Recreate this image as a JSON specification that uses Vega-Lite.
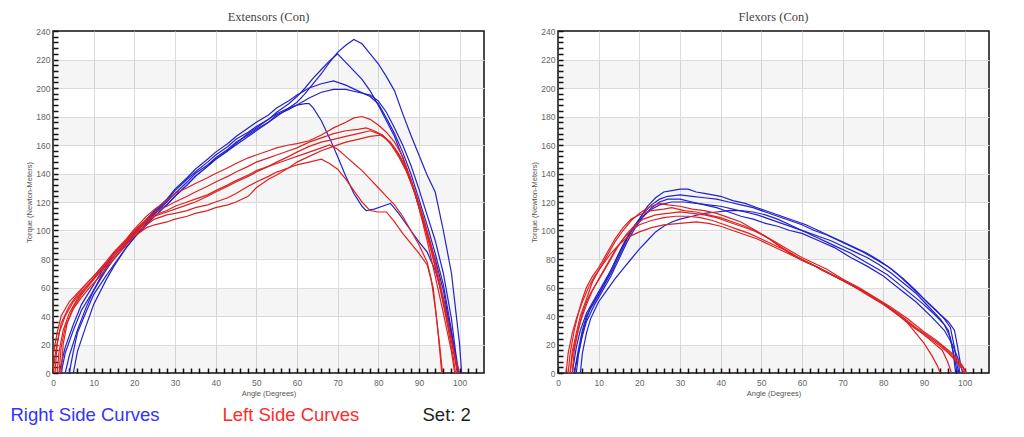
{
"$schema": "https://vega.github.io/schema/vega-lite/v6.json",
"background": "white",
"padding": {"left": 10, "top": 9, "right": 30, "bottom": 5},
"spacing": 45,
"config": {
 "view": {"stroke": "#111111", "strokeWidth": 1.5},
 "font": "Liberation Sans",
 "title": {"font": "Liberation Serif", "fontSize": 12.5, "fontWeight": "normal", "color": "#444444", "offset": 0}
},
"datasets": {
"ext": [
{"c":"B1","s":"R","a":4,"t":0},{"c":"B1","s":"R","a":5,"t":15},{"c":"B1","s":"R","a":6,"t":28},{"c":"B1","s":"R","a":8,"t":42},{"c":"B1","s":"R","a":10,"t":55},{"c":"B1","s":"R","a":13,"t":68},{"c":"B1","s":"R","a":15,"t":76},{"c":"B1","s":"R","a":18,"t":88},{"c":"B1","s":"R","a":20,"t":95},{"c":"B1","s":"R","a":23,"t":105},{"c":"B1","s":"R","a":25,"t":112},{"c":"B1","s":"R","a":28,"t":120},{"c":"B1","s":"R","a":30,"t":126},{"c":"B1","s":"R","a":33,"t":134},{"c":"B1","s":"R","a":35,"t":140},{"c":"B1","s":"R","a":38,"t":146},{"c":"B1","s":"R","a":40,"t":151},{"c":"B1","s":"R","a":43,"t":157},{"c":"B1","s":"R","a":45,"t":162},{"c":"B1","s":"R","a":48,"t":167},{"c":"B1","s":"R","a":50,"t":171},{"c":"B1","s":"R","a":53,"t":176},{"c":"B1","s":"R","a":55,"t":180},{"c":"B1","s":"R","a":58,"t":186},{"c":"B1","s":"R","a":60,"t":190},{"c":"B1","s":"R","a":62,"t":196},{"c":"B1","s":"R","a":64,"t":203},{"c":"B1","s":"R","a":66,"t":210},{"c":"B1","s":"R","a":68,"t":218},{"c":"B1","s":"R","a":70,"t":225},{"c":"B1","s":"R","a":72,"t":230},{"c":"B1","s":"R","a":74,"t":234},{"c":"B1","s":"R","a":76,"t":231},{"c":"B1","s":"R","a":78,"t":224},{"c":"B1","s":"R","a":80,"t":217},{"c":"B1","s":"R","a":82,"t":208},{"c":"B1","s":"R","a":84,"t":198},{"c":"B1","s":"R","a":86,"t":182},{"c":"B1","s":"R","a":88,"t":167},{"c":"B1","s":"R","a":90,"t":153},{"c":"B1","s":"R","a":92,"t":139},{"c":"B1","s":"R","a":94,"t":127},{"c":"B1","s":"R","a":96,"t":100},{"c":"B1","s":"R","a":98,"t":70},{"c":"B1","s":"R","a":99,"t":45},{"c":"B1","s":"R","a":100,"t":20},{"c":"B1","s":"R","a":100.5,"t":0},
{"c":"B2","s":"R","a":3,"t":0},{"c":"B2","s":"R","a":4,"t":12},{"c":"B2","s":"R","a":6,"t":30},{"c":"B2","s":"R","a":8,"t":45},{"c":"B2","s":"R","a":10,"t":58},{"c":"B2","s":"R","a":13,"t":72},{"c":"B2","s":"R","a":15,"t":80},{"c":"B2","s":"R","a":18,"t":90},{"c":"B2","s":"R","a":20,"t":97},{"c":"B2","s":"R","a":23,"t":107},{"c":"B2","s":"R","a":25,"t":113},{"c":"B2","s":"R","a":28,"t":121},{"c":"B2","s":"R","a":30,"t":128},{"c":"B2","s":"R","a":33,"t":136},{"c":"B2","s":"R","a":35,"t":141},{"c":"B2","s":"R","a":38,"t":148},{"c":"B2","s":"R","a":40,"t":153},{"c":"B2","s":"R","a":43,"t":159},{"c":"B2","s":"R","a":45,"t":164},{"c":"B2","s":"R","a":48,"t":169},{"c":"B2","s":"R","a":50,"t":173},{"c":"B2","s":"R","a":53,"t":178},{"c":"B2","s":"R","a":55,"t":183},{"c":"B2","s":"R","a":58,"t":189},{"c":"B2","s":"R","a":60,"t":194},{"c":"B2","s":"R","a":62,"t":200},{"c":"B2","s":"R","a":64,"t":207},{"c":"B2","s":"R","a":66,"t":213},{"c":"B2","s":"R","a":68,"t":219},{"c":"B2","s":"R","a":70,"t":224},{"c":"B2","s":"R","a":72,"t":218},{"c":"B2","s":"R","a":74,"t":212},{"c":"B2","s":"R","a":76,"t":206},{"c":"B2","s":"R","a":78,"t":198},{"c":"B2","s":"R","a":80,"t":188},{"c":"B2","s":"R","a":82,"t":177},{"c":"B2","s":"R","a":84,"t":166},{"c":"B2","s":"R","a":86,"t":151},{"c":"B2","s":"R","a":88,"t":136},{"c":"B2","s":"R","a":90,"t":116},{"c":"B2","s":"R","a":92,"t":98},{"c":"B2","s":"R","a":94,"t":80},{"c":"B2","s":"R","a":96,"t":58},{"c":"B2","s":"R","a":98,"t":26},{"c":"B2","s":"R","a":99,"t":9},{"c":"B2","s":"R","a":99.5,"t":0},
{"c":"B3","s":"R","a":2,"t":0},{"c":"B3","s":"R","a":3,"t":14},{"c":"B3","s":"R","a":5,"t":30},{"c":"B3","s":"R","a":7,"t":44},{"c":"B3","s":"R","a":10,"t":58},{"c":"B3","s":"R","a":13,"t":74},{"c":"B3","s":"R","a":15,"t":82},{"c":"B3","s":"R","a":18,"t":91},{"c":"B3","s":"R","a":20,"t":98},{"c":"B3","s":"R","a":23,"t":108},{"c":"B3","s":"R","a":25,"t":114},{"c":"B3","s":"R","a":28,"t":122},{"c":"B3","s":"R","a":30,"t":129},{"c":"B3","s":"R","a":33,"t":137},{"c":"B3","s":"R","a":35,"t":143},{"c":"B3","s":"R","a":38,"t":150},{"c":"B3","s":"R","a":40,"t":155},{"c":"B3","s":"R","a":43,"t":161},{"c":"B3","s":"R","a":45,"t":166},{"c":"B3","s":"R","a":48,"t":172},{"c":"B3","s":"R","a":50,"t":176},{"c":"B3","s":"R","a":53,"t":181},{"c":"B3","s":"R","a":55,"t":186},{"c":"B3","s":"R","a":58,"t":191},{"c":"B3","s":"R","a":60,"t":195},{"c":"B3","s":"R","a":63,"t":200},{"c":"B3","s":"R","a":66,"t":203},{"c":"B3","s":"R","a":69,"t":205},{"c":"B3","s":"R","a":72,"t":202},{"c":"B3","s":"R","a":75,"t":198},{"c":"B3","s":"R","a":78,"t":194},{"c":"B3","s":"R","a":80,"t":189},{"c":"B3","s":"R","a":82,"t":179},{"c":"B3","s":"R","a":84,"t":168},{"c":"B3","s":"R","a":86,"t":155},{"c":"B3","s":"R","a":88,"t":140},{"c":"B3","s":"R","a":90,"t":122},{"c":"B3","s":"R","a":92,"t":104},{"c":"B3","s":"R","a":94,"t":84},{"c":"B3","s":"R","a":96,"t":62},{"c":"B3","s":"R","a":98,"t":30},{"c":"B3","s":"R","a":99,"t":10},{"c":"B3","s":"R","a":99.5,"t":0},
{"c":"B4","s":"R","a":1.5,"t":0},{"c":"B4","s":"R","a":3,"t":18},{"c":"B4","s":"R","a":5,"t":34},{"c":"B4","s":"R","a":7,"t":48},{"c":"B4","s":"R","a":10,"t":62},{"c":"B4","s":"R","a":13,"t":76},{"c":"B4","s":"R","a":15,"t":84},{"c":"B4","s":"R","a":18,"t":93},{"c":"B4","s":"R","a":20,"t":99},{"c":"B4","s":"R","a":23,"t":106},{"c":"B4","s":"R","a":25,"t":112},{"c":"B4","s":"R","a":28,"t":118},{"c":"B4","s":"R","a":30,"t":124},{"c":"B4","s":"R","a":33,"t":132},{"c":"B4","s":"R","a":35,"t":138},{"c":"B4","s":"R","a":38,"t":145},{"c":"B4","s":"R","a":40,"t":150},{"c":"B4","s":"R","a":43,"t":156},{"c":"B4","s":"R","a":45,"t":160},{"c":"B4","s":"R","a":48,"t":166},{"c":"B4","s":"R","a":50,"t":170},{"c":"B4","s":"R","a":53,"t":176},{"c":"B4","s":"R","a":55,"t":181},{"c":"B4","s":"R","a":58,"t":185},{"c":"B4","s":"R","a":60,"t":188},{"c":"B4","s":"R","a":63,"t":193},{"c":"B4","s":"R","a":66,"t":197},{"c":"B4","s":"R","a":69,"t":199},{"c":"B4","s":"R","a":72,"t":199},{"c":"B4","s":"R","a":75,"t":197},{"c":"B4","s":"R","a":78,"t":195},{"c":"B4","s":"R","a":80,"t":191},{"c":"B4","s":"R","a":82,"t":183},{"c":"B4","s":"R","a":84,"t":172},{"c":"B4","s":"R","a":86,"t":160},{"c":"B4","s":"R","a":88,"t":146},{"c":"B4","s":"R","a":90,"t":129},{"c":"B4","s":"R","a":92,"t":111},{"c":"B4","s":"R","a":94,"t":93},{"c":"B4","s":"R","a":96,"t":70},{"c":"B4","s":"R","a":98,"t":38},{"c":"B4","s":"R","a":99,"t":15},{"c":"B4","s":"R","a":99.8,"t":0},
{"c":"B5","s":"R","a":5,"t":0},{"c":"B5","s":"R","a":6,"t":15},{"c":"B5","s":"R","a":8,"t":32},{"c":"B5","s":"R","a":10,"t":48},{"c":"B5","s":"R","a":13,"t":65},{"c":"B5","s":"R","a":15,"t":75},{"c":"B5","s":"R","a":18,"t":88},{"c":"B5","s":"R","a":20,"t":95},{"c":"B5","s":"R","a":23,"t":104},{"c":"B5","s":"R","a":25,"t":110},{"c":"B5","s":"R","a":28,"t":118},{"c":"B5","s":"R","a":30,"t":124},{"c":"B5","s":"R","a":33,"t":132},{"c":"B5","s":"R","a":35,"t":138},{"c":"B5","s":"R","a":38,"t":145},{"c":"B5","s":"R","a":40,"t":150},{"c":"B5","s":"R","a":43,"t":156},{"c":"B5","s":"R","a":45,"t":161},{"c":"B5","s":"R","a":48,"t":168},{"c":"B5","s":"R","a":50,"t":172},{"c":"B5","s":"R","a":53,"t":178},{"c":"B5","s":"R","a":55,"t":182},{"c":"B5","s":"R","a":58,"t":186},{"c":"B5","s":"R","a":60,"t":188},{"c":"B5","s":"R","a":62,"t":189},{"c":"B5","s":"R","a":63,"t":189},{"c":"B5","s":"R","a":64,"t":186},{"c":"B5","s":"R","a":66,"t":177},{"c":"B5","s":"R","a":68,"t":165},{"c":"B5","s":"R","a":70,"t":152},{"c":"B5","s":"R","a":72,"t":138},{"c":"B5","s":"R","a":74,"t":126},{"c":"B5","s":"R","a":76,"t":117},{"c":"B5","s":"R","a":77,"t":114},{"c":"B5","s":"R","a":79,"t":115},{"c":"B5","s":"R","a":81,"t":117},{"c":"B5","s":"R","a":83,"t":119},{"c":"B5","s":"R","a":85,"t":112},{"c":"B5","s":"R","a":88,"t":100},{"c":"B5","s":"R","a":90,"t":92},{"c":"B5","s":"R","a":92,"t":85},{"c":"B5","s":"R","a":94,"t":72},{"c":"B5","s":"R","a":96,"t":52},{"c":"B5","s":"R","a":98,"t":28},{"c":"B5","s":"R","a":99,"t":12},{"c":"B5","s":"R","a":99.6,"t":0},
{"c":"R1","s":"L","a":0,"t":12},{"c":"R1","s":"L","a":1,"t":28},{"c":"R1","s":"L","a":2,"t":40},{"c":"R1","s":"L","a":4,"t":50},{"c":"R1","s":"L","a":6,"t":56},{"c":"R1","s":"L","a":8,"t":62},{"c":"R1","s":"L","a":10,"t":68},{"c":"R1","s":"L","a":13,"t":78},{"c":"R1","s":"L","a":15,"t":85},{"c":"R1","s":"L","a":18,"t":94},{"c":"R1","s":"L","a":20,"t":101},{"c":"R1","s":"L","a":23,"t":110},{"c":"R1","s":"L","a":25,"t":115},{"c":"R1","s":"L","a":28,"t":121},{"c":"R1","s":"L","a":30,"t":126},{"c":"R1","s":"L","a":33,"t":130},{"c":"R1","s":"L","a":35,"t":133},{"c":"R1","s":"L","a":38,"t":137},{"c":"R1","s":"L","a":40,"t":140},{"c":"R1","s":"L","a":43,"t":144},{"c":"R1","s":"L","a":45,"t":147},{"c":"R1","s":"L","a":48,"t":151},{"c":"R1","s":"L","a":50,"t":153},{"c":"R1","s":"L","a":53,"t":156},{"c":"R1","s":"L","a":55,"t":158},{"c":"R1","s":"L","a":58,"t":160},{"c":"R1","s":"L","a":60,"t":161},{"c":"R1","s":"L","a":63,"t":163},{"c":"R1","s":"L","a":66,"t":167},{"c":"R1","s":"L","a":69,"t":172},{"c":"R1","s":"L","a":72,"t":176},{"c":"R1","s":"L","a":74,"t":179},{"c":"R1","s":"L","a":76,"t":180},{"c":"R1","s":"L","a":78,"t":178},{"c":"R1","s":"L","a":80,"t":174},{"c":"R1","s":"L","a":82,"t":169},{"c":"R1","s":"L","a":84,"t":162},{"c":"R1","s":"L","a":86,"t":152},{"c":"R1","s":"L","a":88,"t":136},{"c":"R1","s":"L","a":90,"t":116},{"c":"R1","s":"L","a":92,"t":93},{"c":"R1","s":"L","a":94,"t":68},{"c":"R1","s":"L","a":96,"t":42},{"c":"R1","s":"L","a":98,"t":15},{"c":"R1","s":"L","a":98.8,"t":0},
{"c":"R2","s":"L","a":1,"t":0},{"c":"R2","s":"L","a":1.5,"t":15},{"c":"R2","s":"L","a":2.5,"t":30},{"c":"R2","s":"L","a":4,"t":42},{"c":"R2","s":"L","a":6,"t":52},{"c":"R2","s":"L","a":8,"t":60},{"c":"R2","s":"L","a":10,"t":66},{"c":"R2","s":"L","a":13,"t":76},{"c":"R2","s":"L","a":15,"t":84},{"c":"R2","s":"L","a":18,"t":93},{"c":"R2","s":"L","a":20,"t":100},{"c":"R2","s":"L","a":23,"t":108},{"c":"R2","s":"L","a":25,"t":113},{"c":"R2","s":"L","a":28,"t":117},{"c":"R2","s":"L","a":30,"t":120},{"c":"R2","s":"L","a":33,"t":124},{"c":"R2","s":"L","a":35,"t":127},{"c":"R2","s":"L","a":38,"t":131},{"c":"R2","s":"L","a":40,"t":134},{"c":"R2","s":"L","a":43,"t":138},{"c":"R2","s":"L","a":45,"t":141},{"c":"R2","s":"L","a":48,"t":145},{"c":"R2","s":"L","a":50,"t":148},{"c":"R2","s":"L","a":53,"t":151},{"c":"R2","s":"L","a":55,"t":153},{"c":"R2","s":"L","a":58,"t":156},{"c":"R2","s":"L","a":60,"t":158},{"c":"R2","s":"L","a":63,"t":162},{"c":"R2","s":"L","a":66,"t":165},{"c":"R2","s":"L","a":69,"t":168},{"c":"R2","s":"L","a":72,"t":170},{"c":"R2","s":"L","a":75,"t":171},{"c":"R2","s":"L","a":77,"t":172},{"c":"R2","s":"L","a":79,"t":170},{"c":"R2","s":"L","a":81,"t":167},{"c":"R2","s":"L","a":83,"t":161},{"c":"R2","s":"L","a":85,"t":152},{"c":"R2","s":"L","a":87,"t":141},{"c":"R2","s":"L","a":89,"t":126},{"c":"R2","s":"L","a":91,"t":107},{"c":"R2","s":"L","a":93,"t":86},{"c":"R2","s":"L","a":95,"t":62},{"c":"R2","s":"L","a":97,"t":34},{"c":"R2","s":"L","a":98.5,"t":10},{"c":"R2","s":"L","a":99,"t":0},
{"c":"R3","s":"L","a":1.5,"t":0},{"c":"R3","s":"L","a":2,"t":18},{"c":"R3","s":"L","a":3,"t":32},{"c":"R3","s":"L","a":5,"t":46},{"c":"R3","s":"L","a":7,"t":55},{"c":"R3","s":"L","a":9,"t":62},{"c":"R3","s":"L","a":11,"t":69},{"c":"R3","s":"L","a":13,"t":75},{"c":"R3","s":"L","a":15,"t":82},{"c":"R3","s":"L","a":18,"t":92},{"c":"R3","s":"L","a":20,"t":98},{"c":"R3","s":"L","a":23,"t":106},{"c":"R3","s":"L","a":25,"t":110},{"c":"R3","s":"L","a":28,"t":113},{"c":"R3","s":"L","a":30,"t":115},{"c":"R3","s":"L","a":33,"t":118},{"c":"R3","s":"L","a":35,"t":120},{"c":"R3","s":"L","a":38,"t":124},{"c":"R3","s":"L","a":40,"t":127},{"c":"R3","s":"L","a":43,"t":131},{"c":"R3","s":"L","a":45,"t":134},{"c":"R3","s":"L","a":48,"t":138},{"c":"R3","s":"L","a":50,"t":141},{"c":"R3","s":"L","a":53,"t":145},{"c":"R3","s":"L","a":55,"t":148},{"c":"R3","s":"L","a":58,"t":152},{"c":"R3","s":"L","a":60,"t":155},{"c":"R3","s":"L","a":63,"t":159},{"c":"R3","s":"L","a":66,"t":162},{"c":"R3","s":"L","a":69,"t":164},{"c":"R3","s":"L","a":72,"t":166},{"c":"R3","s":"L","a":75,"t":168},{"c":"R3","s":"L","a":78,"t":170},{"c":"R3","s":"L","a":80,"t":168},{"c":"R3","s":"L","a":82,"t":164},{"c":"R3","s":"L","a":84,"t":158},{"c":"R3","s":"L","a":86,"t":148},{"c":"R3","s":"L","a":88,"t":134},{"c":"R3","s":"L","a":90,"t":118},{"c":"R3","s":"L","a":92,"t":98},{"c":"R3","s":"L","a":94,"t":75},{"c":"R3","s":"L","a":96,"t":50},{"c":"R3","s":"L","a":98,"t":22},{"c":"R3","s":"L","a":99.5,"t":0},
{"c":"R4","s":"L","a":2,"t":0},{"c":"R4","s":"L","a":2.5,"t":20},{"c":"R4","s":"L","a":3.5,"t":35},{"c":"R4","s":"L","a":5,"t":45},{"c":"R4","s":"L","a":7,"t":53},{"c":"R4","s":"L","a":9,"t":60},{"c":"R4","s":"L","a":11,"t":66},{"c":"R4","s":"L","a":13,"t":73},{"c":"R4","s":"L","a":15,"t":80},{"c":"R4","s":"L","a":18,"t":90},{"c":"R4","s":"L","a":20,"t":96},{"c":"R4","s":"L","a":23,"t":102},{"c":"R4","s":"L","a":25,"t":104},{"c":"R4","s":"L","a":28,"t":106},{"c":"R4","s":"L","a":30,"t":108},{"c":"R4","s":"L","a":33,"t":110},{"c":"R4","s":"L","a":35,"t":112},{"c":"R4","s":"L","a":38,"t":114},{"c":"R4","s":"L","a":40,"t":116},{"c":"R4","s":"L","a":43,"t":118},{"c":"R4","s":"L","a":45,"t":120},{"c":"R4","s":"L","a":48,"t":124},{"c":"R4","s":"L","a":50,"t":130},{"c":"R4","s":"L","a":53,"t":136},{"c":"R4","s":"L","a":55,"t":139},{"c":"R4","s":"L","a":58,"t":144},{"c":"R4","s":"L","a":60,"t":148},{"c":"R4","s":"L","a":63,"t":152},{"c":"R4","s":"L","a":66,"t":156},{"c":"R4","s":"L","a":69,"t":159},{"c":"R4","s":"L","a":72,"t":162},{"c":"R4","s":"L","a":75,"t":164},{"c":"R4","s":"L","a":78,"t":166},{"c":"R4","s":"L","a":81,"t":167},{"c":"R4","s":"L","a":83,"t":162},{"c":"R4","s":"L","a":85,"t":154},{"c":"R4","s":"L","a":87,"t":143},{"c":"R4","s":"L","a":89,"t":128},{"c":"R4","s":"L","a":91,"t":110},{"c":"R4","s":"L","a":93,"t":90},{"c":"R4","s":"L","a":95,"t":66},{"c":"R4","s":"L","a":97,"t":38},{"c":"R4","s":"L","a":99,"t":10},{"c":"R4","s":"L","a":100,"t":0},
{"c":"R5","s":"L","a":0.5,"t":0},{"c":"R5","s":"L","a":1,"t":20},{"c":"R5","s":"L","a":2,"t":35},{"c":"R5","s":"L","a":4,"t":47},{"c":"R5","s":"L","a":6,"t":55},{"c":"R5","s":"L","a":8,"t":62},{"c":"R5","s":"L","a":10,"t":68},{"c":"R5","s":"L","a":13,"t":77},{"c":"R5","s":"L","a":15,"t":84},{"c":"R5","s":"L","a":18,"t":93},{"c":"R5","s":"L","a":20,"t":99},{"c":"R5","s":"L","a":23,"t":107},{"c":"R5","s":"L","a":25,"t":111},{"c":"R5","s":"L","a":28,"t":114},{"c":"R5","s":"L","a":30,"t":117},{"c":"R5","s":"L","a":33,"t":120},{"c":"R5","s":"L","a":35,"t":122},{"c":"R5","s":"L","a":38,"t":125},{"c":"R5","s":"L","a":40,"t":128},{"c":"R5","s":"L","a":43,"t":132},{"c":"R5","s":"L","a":45,"t":135},{"c":"R5","s":"L","a":48,"t":139},{"c":"R5","s":"L","a":50,"t":142},{"c":"R5","s":"L","a":53,"t":145},{"c":"R5","s":"L","a":55,"t":147},{"c":"R5","s":"L","a":58,"t":150},{"c":"R5","s":"L","a":60,"t":152},{"c":"R5","s":"L","a":63,"t":155},{"c":"R5","s":"L","a":66,"t":158},{"c":"R5","s":"L","a":68,"t":160},{"c":"R5","s":"L","a":70,"t":157},{"c":"R5","s":"L","a":72,"t":152},{"c":"R5","s":"L","a":74,"t":147},{"c":"R5","s":"L","a":76,"t":142},{"c":"R5","s":"L","a":78,"t":136},{"c":"R5","s":"L","a":80,"t":130},{"c":"R5","s":"L","a":82,"t":124},{"c":"R5","s":"L","a":84,"t":118},{"c":"R5","s":"L","a":86,"t":110},{"c":"R5","s":"L","a":88,"t":100},{"c":"R5","s":"L","a":90,"t":90},{"c":"R5","s":"L","a":92,"t":78},{"c":"R5","s":"L","a":93,"t":66},{"c":"R5","s":"L","a":94,"t":46},{"c":"R5","s":"L","a":95,"t":22},{"c":"R5","s":"L","a":95.8,"t":0},
{"c":"R6","s":"L","a":0,"t":0},{"c":"R6","s":"L","a":0.5,"t":12},{"c":"R6","s":"L","a":1.5,"t":28},{"c":"R6","s":"L","a":3,"t":40},{"c":"R6","s":"L","a":5,"t":50},{"c":"R6","s":"L","a":7,"t":57},{"c":"R6","s":"L","a":9,"t":63},{"c":"R6","s":"L","a":11,"t":70},{"c":"R6","s":"L","a":13,"t":76},{"c":"R6","s":"L","a":15,"t":82},{"c":"R6","s":"L","a":18,"t":91},{"c":"R6","s":"L","a":20,"t":97},{"c":"R6","s":"L","a":23,"t":104},{"c":"R6","s":"L","a":25,"t":108},{"c":"R6","s":"L","a":28,"t":111},{"c":"R6","s":"L","a":30,"t":112},{"c":"R6","s":"L","a":33,"t":114},{"c":"R6","s":"L","a":35,"t":116},{"c":"R6","s":"L","a":38,"t":118},{"c":"R6","s":"L","a":40,"t":120},{"c":"R6","s":"L","a":43,"t":123},{"c":"R6","s":"L","a":45,"t":126},{"c":"R6","s":"L","a":48,"t":131},{"c":"R6","s":"L","a":50,"t":134},{"c":"R6","s":"L","a":53,"t":138},{"c":"R6","s":"L","a":55,"t":141},{"c":"R6","s":"L","a":58,"t":144},{"c":"R6","s":"L","a":60,"t":146},{"c":"R6","s":"L","a":63,"t":148},{"c":"R6","s":"L","a":66,"t":150},{"c":"R6","s":"L","a":68,"t":147},{"c":"R6","s":"L","a":70,"t":143},{"c":"R6","s":"L","a":72,"t":136},{"c":"R6","s":"L","a":74,"t":128},{"c":"R6","s":"L","a":76,"t":120},{"c":"R6","s":"L","a":78,"t":114},{"c":"R6","s":"L","a":80,"t":113},{"c":"R6","s":"L","a":82,"t":113},{"c":"R6","s":"L","a":84,"t":106},{"c":"R6","s":"L","a":86,"t":98},{"c":"R6","s":"L","a":88,"t":91},{"c":"R6","s":"L","a":90,"t":84},{"c":"R6","s":"L","a":92,"t":76},{"c":"R6","s":"L","a":93.5,"t":60},{"c":"R6","s":"L","a":94.5,"t":34},{"c":"R6","s":"L","a":95.3,"t":10},{"c":"R6","s":"L","a":95.6,"t":0}
],
"flx": [
{"c":"B1","s":"R","a":4.5,"t":0},{"c":"B1","s":"R","a":5,"t":12},{"c":"B1","s":"R","a":6,"t":28},{"c":"B1","s":"R","a":7,"t":38},{"c":"B1","s":"R","a":8,"t":46},{"c":"B1","s":"R","a":10,"t":55},{"c":"B1","s":"R","a":12,"t":66},{"c":"B1","s":"R","a":14,"t":78},{"c":"B1","s":"R","a":16,"t":90},{"c":"B1","s":"R","a":18,"t":100},{"c":"B1","s":"R","a":20,"t":108},{"c":"B1","s":"R","a":22,"t":117},{"c":"B1","s":"R","a":24,"t":123},{"c":"B1","s":"R","a":26,"t":127},{"c":"B1","s":"R","a":28,"t":128},{"c":"B1","s":"R","a":30,"t":129},{"c":"B1","s":"R","a":32,"t":129},{"c":"B1","s":"R","a":34,"t":127},{"c":"B1","s":"R","a":36,"t":126},{"c":"B1","s":"R","a":38,"t":125},{"c":"B1","s":"R","a":40,"t":124},{"c":"B1","s":"R","a":43,"t":121},{"c":"B1","s":"R","a":46,"t":119},{"c":"B1","s":"R","a":49,"t":116},{"c":"B1","s":"R","a":52,"t":113},{"c":"B1","s":"R","a":55,"t":110},{"c":"B1","s":"R","a":58,"t":107},{"c":"B1","s":"R","a":61,"t":104},{"c":"B1","s":"R","a":64,"t":100},{"c":"B1","s":"R","a":67,"t":96},{"c":"B1","s":"R","a":70,"t":92},{"c":"B1","s":"R","a":73,"t":88},{"c":"B1","s":"R","a":76,"t":84},{"c":"B1","s":"R","a":79,"t":79},{"c":"B1","s":"R","a":82,"t":73},{"c":"B1","s":"R","a":85,"t":66},{"c":"B1","s":"R","a":88,"t":58},{"c":"B1","s":"R","a":91,"t":49},{"c":"B1","s":"R","a":94,"t":41},{"c":"B1","s":"R","a":96,"t":36},{"c":"B1","s":"R","a":97.5,"t":30},{"c":"B1","s":"R","a":98.3,"t":18},{"c":"B1","s":"R","a":99,"t":6},{"c":"B1","s":"R","a":99.5,"t":0},
{"c":"B2","s":"R","a":4,"t":0},{"c":"B2","s":"R","a":5,"t":16},{"c":"B2","s":"R","a":6,"t":30},{"c":"B2","s":"R","a":7,"t":40},{"c":"B2","s":"R","a":9,"t":50},{"c":"B2","s":"R","a":11,"t":60},{"c":"B2","s":"R","a":13,"t":70},{"c":"B2","s":"R","a":15,"t":82},{"c":"B2","s":"R","a":17,"t":94},{"c":"B2","s":"R","a":19,"t":104},{"c":"B2","s":"R","a":21,"t":112},{"c":"B2","s":"R","a":23,"t":118},{"c":"B2","s":"R","a":25,"t":122},{"c":"B2","s":"R","a":27,"t":124},{"c":"B2","s":"R","a":30,"t":125},{"c":"B2","s":"R","a":33,"t":124},{"c":"B2","s":"R","a":36,"t":123},{"c":"B2","s":"R","a":39,"t":122},{"c":"B2","s":"R","a":42,"t":120},{"c":"B2","s":"R","a":45,"t":118},{"c":"B2","s":"R","a":48,"t":116},{"c":"B2","s":"R","a":51,"t":113},{"c":"B2","s":"R","a":54,"t":110},{"c":"B2","s":"R","a":57,"t":107},{"c":"B2","s":"R","a":60,"t":104},{"c":"B2","s":"R","a":63,"t":100},{"c":"B2","s":"R","a":66,"t":97},{"c":"B2","s":"R","a":69,"t":93},{"c":"B2","s":"R","a":72,"t":89},{"c":"B2","s":"R","a":75,"t":85},{"c":"B2","s":"R","a":78,"t":80},{"c":"B2","s":"R","a":81,"t":75},{"c":"B2","s":"R","a":84,"t":68},{"c":"B2","s":"R","a":87,"t":60},{"c":"B2","s":"R","a":90,"t":52},{"c":"B2","s":"R","a":93,"t":44},{"c":"B2","s":"R","a":95,"t":38},{"c":"B2","s":"R","a":96.5,"t":32},{"c":"B2","s":"R","a":97.5,"t":18},{"c":"B2","s":"R","a":98.2,"t":5},{"c":"B2","s":"R","a":98.6,"t":0},
{"c":"B3","s":"R","a":3.5,"t":0},{"c":"B3","s":"R","a":4.5,"t":18},{"c":"B3","s":"R","a":5.5,"t":30},{"c":"B3","s":"R","a":7,"t":42},{"c":"B3","s":"R","a":9,"t":52},{"c":"B3","s":"R","a":11,"t":62},{"c":"B3","s":"R","a":13,"t":72},{"c":"B3","s":"R","a":15,"t":84},{"c":"B3","s":"R","a":17,"t":95},{"c":"B3","s":"R","a":19,"t":104},{"c":"B3","s":"R","a":21,"t":110},{"c":"B3","s":"R","a":23,"t":115},{"c":"B3","s":"R","a":25,"t":118},{"c":"B3","s":"R","a":28,"t":120},{"c":"B3","s":"R","a":31,"t":120},{"c":"B3","s":"R","a":34,"t":119},{"c":"B3","s":"R","a":37,"t":118},{"c":"B3","s":"R","a":40,"t":117},{"c":"B3","s":"R","a":43,"t":115},{"c":"B3","s":"R","a":46,"t":113},{"c":"B3","s":"R","a":49,"t":111},{"c":"B3","s":"R","a":52,"t":108},{"c":"B3","s":"R","a":55,"t":105},{"c":"B3","s":"R","a":58,"t":102},{"c":"B3","s":"R","a":61,"t":99},{"c":"B3","s":"R","a":64,"t":96},{"c":"B3","s":"R","a":67,"t":93},{"c":"B3","s":"R","a":70,"t":89},{"c":"B3","s":"R","a":73,"t":85},{"c":"B3","s":"R","a":76,"t":81},{"c":"B3","s":"R","a":79,"t":76},{"c":"B3","s":"R","a":82,"t":70},{"c":"B3","s":"R","a":85,"t":63},{"c":"B3","s":"R","a":88,"t":56},{"c":"B3","s":"R","a":91,"t":47},{"c":"B3","s":"R","a":94,"t":38},{"c":"B3","s":"R","a":96,"t":30},{"c":"B3","s":"R","a":97.2,"t":15},{"c":"B3","s":"R","a":98,"t":3},{"c":"B3","s":"R","a":98.3,"t":0},
{"c":"B4","s":"R","a":5.5,"t":0},{"c":"B4","s":"R","a":6,"t":14},{"c":"B4","s":"R","a":7,"t":28},{"c":"B4","s":"R","a":8,"t":38},{"c":"B4","s":"R","a":9,"t":44},{"c":"B4","s":"R","a":10,"t":50},{"c":"B4","s":"R","a":12,"t":58},{"c":"B4","s":"R","a":14,"t":66},{"c":"B4","s":"R","a":16,"t":73},{"c":"B4","s":"R","a":18,"t":80},{"c":"B4","s":"R","a":20,"t":87},{"c":"B4","s":"R","a":22,"t":93},{"c":"B4","s":"R","a":24,"t":99},{"c":"B4","s":"R","a":26,"t":103},{"c":"B4","s":"R","a":28,"t":106},{"c":"B4","s":"R","a":30,"t":108},{"c":"B4","s":"R","a":33,"t":110},{"c":"B4","s":"R","a":36,"t":112},{"c":"B4","s":"R","a":39,"t":113},{"c":"B4","s":"R","a":42,"t":114},{"c":"B4","s":"R","a":45,"t":114},{"c":"B4","s":"R","a":48,"t":113},{"c":"B4","s":"R","a":51,"t":111},{"c":"B4","s":"R","a":54,"t":108},{"c":"B4","s":"R","a":57,"t":104},{"c":"B4","s":"R","a":60,"t":100},{"c":"B4","s":"R","a":63,"t":96},{"c":"B4","s":"R","a":66,"t":92},{"c":"B4","s":"R","a":69,"t":88},{"c":"B4","s":"R","a":72,"t":84},{"c":"B4","s":"R","a":75,"t":79},{"c":"B4","s":"R","a":78,"t":74},{"c":"B4","s":"R","a":81,"t":69},{"c":"B4","s":"R","a":84,"t":62},{"c":"B4","s":"R","a":87,"t":55},{"c":"B4","s":"R","a":90,"t":48},{"c":"B4","s":"R","a":93,"t":40},{"c":"B4","s":"R","a":95,"t":34},{"c":"B4","s":"R","a":96.5,"t":25},{"c":"B4","s":"R","a":97.3,"t":12},{"c":"B4","s":"R","a":97.8,"t":0},
{"c":"B5","s":"R","a":4,"t":0},{"c":"B5","s":"R","a":5,"t":14},{"c":"B5","s":"R","a":6,"t":26},{"c":"B5","s":"R","a":7,"t":36},{"c":"B5","s":"R","a":9,"t":48},{"c":"B5","s":"R","a":11,"t":58},{"c":"B5","s":"R","a":13,"t":68},{"c":"B5","s":"R","a":15,"t":80},{"c":"B5","s":"R","a":17,"t":92},{"c":"B5","s":"R","a":19,"t":102},{"c":"B5","s":"R","a":21,"t":110},{"c":"B5","s":"R","a":23,"t":116},{"c":"B5","s":"R","a":25,"t":120},{"c":"B5","s":"R","a":27,"t":122},{"c":"B5","s":"R","a":30,"t":122},{"c":"B5","s":"R","a":33,"t":120},{"c":"B5","s":"R","a":36,"t":118},{"c":"B5","s":"R","a":39,"t":116},{"c":"B5","s":"R","a":42,"t":113},{"c":"B5","s":"R","a":45,"t":110},{"c":"B5","s":"R","a":48,"t":108},{"c":"B5","s":"R","a":51,"t":105},{"c":"B5","s":"R","a":54,"t":103},{"c":"B5","s":"R","a":57,"t":100},{"c":"B5","s":"R","a":60,"t":98},{"c":"B5","s":"R","a":64,"t":93},{"c":"B5","s":"R","a":68,"t":88},{"c":"B5","s":"R","a":72,"t":81},{"c":"B5","s":"R","a":76,"t":75},{"c":"B5","s":"R","a":80,"t":68},{"c":"B5","s":"R","a":84,"t":59},{"c":"B5","s":"R","a":88,"t":50},{"c":"B5","s":"R","a":92,"t":39},{"c":"B5","s":"R","a":95,"t":30},{"c":"B5","s":"R","a":97,"t":20},{"c":"B5","s":"R","a":98.4,"t":10},{"c":"B5","s":"R","a":98.8,"t":0},
{"c":"R1","s":"L","a":3,"t":0},{"c":"R1","s":"L","a":3.5,"t":15},{"c":"R1","s":"L","a":4.5,"t":28},{"c":"R1","s":"L","a":5.5,"t":40},{"c":"R1","s":"L","a":6.5,"t":48},{"c":"R1","s":"L","a":7.5,"t":56},{"c":"R1","s":"L","a":8.5,"t":64},{"c":"R1","s":"L","a":10,"t":72},{"c":"R1","s":"L","a":12,"t":82},{"c":"R1","s":"L","a":14,"t":92},{"c":"R1","s":"L","a":16,"t":100},{"c":"R1","s":"L","a":18,"t":107},{"c":"R1","s":"L","a":20,"t":112},{"c":"R1","s":"L","a":22,"t":116},{"c":"R1","s":"L","a":25,"t":119},{"c":"R1","s":"L","a":27,"t":118},{"c":"R1","s":"L","a":30,"t":117},{"c":"R1","s":"L","a":33,"t":115},{"c":"R1","s":"L","a":36,"t":114},{"c":"R1","s":"L","a":39,"t":112},{"c":"R1","s":"L","a":42,"t":109},{"c":"R1","s":"L","a":45,"t":106},{"c":"R1","s":"L","a":48,"t":101},{"c":"R1","s":"L","a":51,"t":96},{"c":"R1","s":"L","a":54,"t":90},{"c":"R1","s":"L","a":57,"t":84},{"c":"R1","s":"L","a":60,"t":79},{"c":"R1","s":"L","a":64,"t":74},{"c":"R1","s":"L","a":68,"t":68},{"c":"R1","s":"L","a":72,"t":62},{"c":"R1","s":"L","a":76,"t":56},{"c":"R1","s":"L","a":80,"t":49},{"c":"R1","s":"L","a":84,"t":41},{"c":"R1","s":"L","a":88,"t":32},{"c":"R1","s":"L","a":91,"t":26},{"c":"R1","s":"L","a":94,"t":20},{"c":"R1","s":"L","a":96,"t":15},{"c":"R1","s":"L","a":98,"t":9},{"c":"R1","s":"L","a":99.5,"t":4},{"c":"R1","s":"L","a":100.3,"t":0},
{"c":"R2","s":"L","a":2.5,"t":0},{"c":"R2","s":"L","a":3,"t":14},{"c":"R2","s":"L","a":4,"t":30},{"c":"R2","s":"L","a":5,"t":42},{"c":"R2","s":"L","a":6,"t":52},{"c":"R2","s":"L","a":7,"t":60},{"c":"R2","s":"L","a":8.5,"t":68},{"c":"R2","s":"L","a":10,"t":74},{"c":"R2","s":"L","a":12,"t":84},{"c":"R2","s":"L","a":14,"t":94},{"c":"R2","s":"L","a":16,"t":102},{"c":"R2","s":"L","a":18,"t":108},{"c":"R2","s":"L","a":20,"t":111},{"c":"R2","s":"L","a":23,"t":114},{"c":"R2","s":"L","a":26,"t":115},{"c":"R2","s":"L","a":28,"t":116},{"c":"R2","s":"L","a":31,"t":114},{"c":"R2","s":"L","a":34,"t":113},{"c":"R2","s":"L","a":37,"t":111},{"c":"R2","s":"L","a":40,"t":109},{"c":"R2","s":"L","a":43,"t":106},{"c":"R2","s":"L","a":46,"t":103},{"c":"R2","s":"L","a":49,"t":99},{"c":"R2","s":"L","a":52,"t":94},{"c":"R2","s":"L","a":55,"t":88},{"c":"R2","s":"L","a":58,"t":83},{"c":"R2","s":"L","a":61,"t":78},{"c":"R2","s":"L","a":64,"t":74},{"c":"R2","s":"L","a":68,"t":68},{"c":"R2","s":"L","a":72,"t":62},{"c":"R2","s":"L","a":76,"t":55},{"c":"R2","s":"L","a":80,"t":48},{"c":"R2","s":"L","a":84,"t":40},{"c":"R2","s":"L","a":88,"t":31},{"c":"R2","s":"L","a":91,"t":25},{"c":"R2","s":"L","a":94,"t":19},{"c":"R2","s":"L","a":96,"t":14},{"c":"R2","s":"L","a":98,"t":8},{"c":"R2","s":"L","a":99.3,"t":3},{"c":"R2","s":"L","a":100,"t":0},
{"c":"R3","s":"L","a":3,"t":0},{"c":"R3","s":"L","a":3.5,"t":12},{"c":"R3","s":"L","a":4.5,"t":25},{"c":"R3","s":"L","a":5.5,"t":36},{"c":"R3","s":"L","a":7,"t":48},{"c":"R3","s":"L","a":8.5,"t":58},{"c":"R3","s":"L","a":10,"t":66},{"c":"R3","s":"L","a":12,"t":76},{"c":"R3","s":"L","a":14,"t":86},{"c":"R3","s":"L","a":16,"t":94},{"c":"R3","s":"L","a":18,"t":100},{"c":"R3","s":"L","a":20,"t":104},{"c":"R3","s":"L","a":23,"t":107},{"c":"R3","s":"L","a":26,"t":109},{"c":"R3","s":"L","a":29,"t":110},{"c":"R3","s":"L","a":32,"t":110},{"c":"R3","s":"L","a":35,"t":109},{"c":"R3","s":"L","a":38,"t":107},{"c":"R3","s":"L","a":41,"t":104},{"c":"R3","s":"L","a":44,"t":101},{"c":"R3","s":"L","a":47,"t":98},{"c":"R3","s":"L","a":50,"t":94},{"c":"R3","s":"L","a":53,"t":90},{"c":"R3","s":"L","a":56,"t":86},{"c":"R3","s":"L","a":59,"t":81},{"c":"R3","s":"L","a":62,"t":77},{"c":"R3","s":"L","a":65,"t":72},{"c":"R3","s":"L","a":68,"t":68},{"c":"R3","s":"L","a":72,"t":62},{"c":"R3","s":"L","a":76,"t":56},{"c":"R3","s":"L","a":80,"t":49},{"c":"R3","s":"L","a":84,"t":40},{"c":"R3","s":"L","a":86,"t":35},{"c":"R3","s":"L","a":88,"t":28},{"c":"R3","s":"L","a":90,"t":21},{"c":"R3","s":"L","a":92,"t":12},{"c":"R3","s":"L","a":93.3,"t":5},{"c":"R3","s":"L","a":94,"t":0},
{"c":"R4","s":"L","a":2,"t":0},{"c":"R4","s":"L","a":2.5,"t":14},{"c":"R4","s":"L","a":3.5,"t":28},{"c":"R4","s":"L","a":4.5,"t":38},{"c":"R4","s":"L","a":6,"t":50},{"c":"R4","s":"L","a":7.5,"t":60},{"c":"R4","s":"L","a":9,"t":68},{"c":"R4","s":"L","a":11,"t":76},{"c":"R4","s":"L","a":13,"t":84},{"c":"R4","s":"L","a":15,"t":90},{"c":"R4","s":"L","a":17,"t":95},{"c":"R4","s":"L","a":20,"t":99},{"c":"R4","s":"L","a":23,"t":102},{"c":"R4","s":"L","a":26,"t":104},{"c":"R4","s":"L","a":30,"t":105},{"c":"R4","s":"L","a":34,"t":106},{"c":"R4","s":"L","a":37,"t":105},{"c":"R4","s":"L","a":40,"t":103},{"c":"R4","s":"L","a":43,"t":100},{"c":"R4","s":"L","a":46,"t":97},{"c":"R4","s":"L","a":49,"t":94},{"c":"R4","s":"L","a":52,"t":90},{"c":"R4","s":"L","a":55,"t":86},{"c":"R4","s":"L","a":58,"t":82},{"c":"R4","s":"L","a":61,"t":78},{"c":"R4","s":"L","a":64,"t":74},{"c":"R4","s":"L","a":68,"t":68},{"c":"R4","s":"L","a":72,"t":62},{"c":"R4","s":"L","a":76,"t":56},{"c":"R4","s":"L","a":80,"t":49},{"c":"R4","s":"L","a":84,"t":40},{"c":"R4","s":"L","a":87,"t":33},{"c":"R4","s":"L","a":89.5,"t":28},{"c":"R4","s":"L","a":92,"t":22},{"c":"R4","s":"L","a":94.5,"t":16},{"c":"R4","s":"L","a":95.8,"t":8},{"c":"R4","s":"L","a":96.8,"t":0},
{"c":"R5","s":"L","a":3.5,"t":0},{"c":"R5","s":"L","a":4,"t":16},{"c":"R5","s":"L","a":5,"t":30},{"c":"R5","s":"L","a":6,"t":42},{"c":"R5","s":"L","a":7,"t":50},{"c":"R5","s":"L","a":8,"t":56},{"c":"R5","s":"L","a":9.5,"t":63},{"c":"R5","s":"L","a":11,"t":70},{"c":"R5","s":"L","a":13,"t":80},{"c":"R5","s":"L","a":15,"t":90},{"c":"R5","s":"L","a":17,"t":98},{"c":"R5","s":"L","a":19,"t":104},{"c":"R5","s":"L","a":21,"t":108},{"c":"R5","s":"L","a":24,"t":111},{"c":"R5","s":"L","a":27,"t":112},{"c":"R5","s":"L","a":30,"t":113},{"c":"R5","s":"L","a":33,"t":112},{"c":"R5","s":"L","a":36,"t":111},{"c":"R5","s":"L","a":39,"t":109},{"c":"R5","s":"L","a":42,"t":106},{"c":"R5","s":"L","a":45,"t":103},{"c":"R5","s":"L","a":48,"t":100},{"c":"R5","s":"L","a":51,"t":96},{"c":"R5","s":"L","a":54,"t":91},{"c":"R5","s":"L","a":57,"t":86},{"c":"R5","s":"L","a":60,"t":81},{"c":"R5","s":"L","a":63,"t":77},{"c":"R5","s":"L","a":66,"t":73},{"c":"R5","s":"L","a":70,"t":66},{"c":"R5","s":"L","a":74,"t":60},{"c":"R5","s":"L","a":78,"t":53},{"c":"R5","s":"L","a":82,"t":46},{"c":"R5","s":"L","a":86,"t":38},{"c":"R5","s":"L","a":90,"t":29},{"c":"R5","s":"L","a":93,"t":23},{"c":"R5","s":"L","a":96,"t":16},{"c":"R5","s":"L","a":98,"t":11},{"c":"R5","s":"L","a":99.5,"t":5},{"c":"R5","s":"L","a":100.5,"t":0}
]
},
"hconcat": [
 {
  "title": "Extensors (Con)",
  "width": 431, "height": 342,
  "data": {"name": "ext"},
  "mark": {"type": "line", "strokeWidth": 1.2, "clip": true},
  "encoding": {
   "x": {"field": "a", "type": "quantitative", "scale": {"domain": [0, 106], "nice": false},
     "axis": {"title": "Angle (Degrees)",
      "values": [0,2,4,6,8,10,12,14,16,18,20,22,24,26,28,30,32,34,36,38,40,42,44,46,48,50,52,54,56,58,60,62,64,66,68,70,72,74,76,78,80,82,84,86,88,90,92,94,96,98,100,102,104],
      "labelExpr": "datum.value % 10 === 0 ? datum.label : ''",
      "domain": false, "tickSize": -5, "tickColor": "#111111", "tickWidth": 1.5,
      "labelPadding": 10, "labelFontSize": 8.5, "labelColor": "#666666", "labelOverlap": false, "labelFlush": false, "labelBound": false,
      "titleFontSize": 7.5, "titleFontWeight": "normal", "titleColor": "#555555", "titlePadding": 3,
      "grid": true, "gridColor": "#dcdcdc",
      "gridOpacity": {"condition": {"test": "datum.value % 10 === 0 && datum.value > 0 && datum.value <= 100", "value": 1}, "value": 0}}},
   "y": {"field": "t", "type": "quantitative", "scale": {"domain": [0, 240], "nice": false},
     "axis": {"title": "Torque (Newton-Meters)",
      "values": [0,4,8,10,12,16,20,24,28,32,36,40,44,48,50,52,56,60,64,68,72,76,80,84,88,90,92,96,100,104,108,112,116,120,124,128,130,132,136,140,144,148,152,156,160,164,168,170,172,176,180,184,188,192,196,200,204,208,210,212,216,220,224,228,232,236,240],
      "labelExpr": "datum.value % 20 === 0 ? datum.label : ''",
      "domain": false, "tickSize": -5, "tickColor": "#111111", "tickWidth": 1.5,
      "tickOpacity": {"condition": {"test": "datum.value % 4 === 0", "value": 1}, "value": 0},
      "labelPadding": 8, "labelFontSize": 8.5, "labelColor": "#666666", "labelOverlap": false, "labelFlush": false, "labelBound": false,
      "titleFontSize": 7.5, "titleFontWeight": "normal", "titleColor": "#555555", "titlePadding": 2,
      "grid": true,
      "gridColor": {"condition": {"test": "datum.value % 40 === 10", "value": "#000000"}, "value": "#dcdcdc"},
      "gridOpacity": {"condition": [{"test": "datum.value % 40 === 10", "value": 0.04}, {"test": "datum.value % 20 === 0 && datum.value > 0 && datum.value < 240", "value": 1}], "value": 0},
      "gridWidth": {"condition": {"test": "datum.value % 40 === 10", "value": 27.5}, "value": 1}}},
   "color": {"field": "s", "type": "nominal",
     "scale": {"domain": ["R", "L", "S"], "range": ["#2222cc", "#dd2222", "#222222"]},
     "legend": {"title": null, "orient": "none", "legendX": -43, "legendY": 375, "offset": 0, "direction": "horizontal",
       "symbolSize": 0, "symbolStrokeWidth": 0, "symbolOpacity": 0, "labelOffset": -18, "columnPadding": 62,
       "labelFontSize": 18.5, "labelFont": "Liberation Sans", "labelLimit": 400,
       "labelExpr": "datum.value === 'R' ? 'Right Side Curves' : datum.value === 'L' ? 'Left Side Curves' : 'Set: 2'",
       "encode": {"labels": {"update": {"fill": {"signal": "datum.value === 'R' ? '#3333ff' : datum.value === 'L' ? '#ff2a2a' : '#222222'"}}}}}},
   "detail": {"field": "c"}
  }
 },
 {
  "title": "Flexors (Con)",
  "width": 431, "height": 342,
  "data": {"name": "flx"},
  "mark": {"type": "line", "strokeWidth": 1.2, "clip": true},
  "encoding": {
   "x": {"field": "a", "type": "quantitative", "scale": {"domain": [0, 106], "nice": false},
     "axis": {"title": "Angle (Degrees)",
      "values": [0,2,4,6,8,10,12,14,16,18,20,22,24,26,28,30,32,34,36,38,40,42,44,46,48,50,52,54,56,58,60,62,64,66,68,70,72,74,76,78,80,82,84,86,88,90,92,94,96,98,100,102,104],
      "labelExpr": "datum.value % 10 === 0 ? datum.label : ''",
      "domain": false, "tickSize": -5, "tickColor": "#111111", "tickWidth": 1.5,
      "labelPadding": 10, "labelFontSize": 8.5, "labelColor": "#666666", "labelOverlap": false, "labelFlush": false, "labelBound": false,
      "titleFontSize": 7.5, "titleFontWeight": "normal", "titleColor": "#555555", "titlePadding": 3,
      "grid": true, "gridColor": "#dcdcdc",
      "gridOpacity": {"condition": {"test": "datum.value % 10 === 0 && datum.value > 0 && datum.value <= 100", "value": 1}, "value": 0}}},
   "y": {"field": "t", "type": "quantitative", "scale": {"domain": [0, 240], "nice": false},
     "axis": {"title": "Torque (Newton-Meters)",
      "values": [0,4,8,10,12,16,20,24,28,32,36,40,44,48,50,52,56,60,64,68,72,76,80,84,88,90,92,96,100,104,108,112,116,120,124,128,130,132,136,140,144,148,152,156,160,164,168,170,172,176,180,184,188,192,196,200,204,208,210,212,216,220,224,228,232,236,240],
      "labelExpr": "datum.value % 20 === 0 ? datum.label : ''",
      "domain": false, "tickSize": -5, "tickColor": "#111111", "tickWidth": 1.5,
      "tickOpacity": {"condition": {"test": "datum.value % 4 === 0", "value": 1}, "value": 0},
      "labelPadding": 8, "labelFontSize": 8.5, "labelColor": "#666666", "labelOverlap": false, "labelFlush": false, "labelBound": false,
      "titleFontSize": 7.5, "titleFontWeight": "normal", "titleColor": "#555555", "titlePadding": 2,
      "grid": true,
      "gridColor": {"condition": {"test": "datum.value % 40 === 10", "value": "#000000"}, "value": "#dcdcdc"},
      "gridOpacity": {"condition": [{"test": "datum.value % 40 === 10", "value": 0.04}, {"test": "datum.value % 20 === 0 && datum.value > 0 && datum.value < 240", "value": 1}], "value": 0},
      "gridWidth": {"condition": {"test": "datum.value % 40 === 10", "value": 27.5}, "value": 1}}},
   "color": {"field": "s", "type": "nominal",
     "scale": {"domain": ["R", "L", "S"], "range": ["#2222cc", "#dd2222", "#222222"]},
     "legend": {"title": null, "orient": "none", "legendX": -43, "legendY": 375, "offset": 0, "direction": "horizontal",
       "symbolSize": 0, "symbolStrokeWidth": 0, "symbolOpacity": 0, "labelOffset": -18, "columnPadding": 62,
       "labelFontSize": 18.5, "labelFont": "Liberation Sans", "labelLimit": 400,
       "labelExpr": "datum.value === 'R' ? 'Right Side Curves' : datum.value === 'L' ? 'Left Side Curves' : 'Set: 2'",
       "encode": {"labels": {"update": {"fill": {"signal": "datum.value === 'R' ? '#3333ff' : datum.value === 'L' ? '#ff2a2a' : '#222222'"}}}}}},
   "detail": {"field": "c"}
  }
 }
]
}
